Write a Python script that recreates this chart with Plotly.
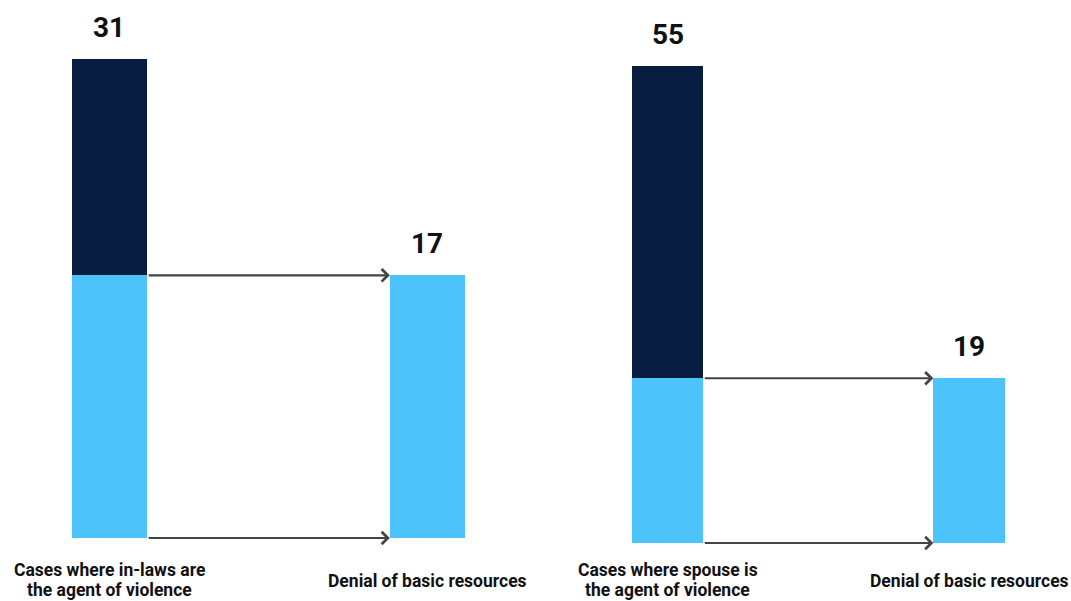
import plotly.graph_objects as go

# Panel data: total cases per agent of violence and the subset with denial of basic resources
left_categories = [["Cases where in-laws are", "the agent of violence"], ["Denial of basic resources"]]
left_total = 31
left_denial = 17

right_categories = [["Cases where spouse is", "the agent of violence"], ["Denial of basic resources"]]
right_total = 55
right_denial = 19

DARK = "#071D3F"
LIGHT = "#4CC3FA"
ARROW = "#444444"
BAR_W = 0.237

fig = go.Figure()

# Left panel (x, y)
fig.add_trace(go.Bar(x=[0, 1], y=[left_denial, left_denial], width=BAR_W,
                     marker=dict(color=LIGHT, line=dict(width=0)),
                     xaxis="x", yaxis="y", hoverinfo="skip"))
fig.add_trace(go.Bar(x=[0], y=[left_total - left_denial], width=BAR_W,
                     marker=dict(color=DARK, line=dict(width=0)),
                     xaxis="x", yaxis="y", hoverinfo="skip"))

# Right panel (x2, y2)
fig.add_trace(go.Bar(x=[0, 1], y=[right_denial, right_denial], width=BAR_W,
                     marker=dict(color=LIGHT, line=dict(width=0)),
                     xaxis="x2", yaxis="y2", hoverinfo="skip"))
fig.add_trace(go.Bar(x=[0], y=[right_total - right_denial], width=BAR_W,
                     marker=dict(color=DARK, line=dict(width=0)),
                     xaxis="x2", yaxis="y2", hoverinfo="skip"))

ax_common = dict(visible=False, showgrid=False, zeroline=False, fixedrange=True)

fig.update_layout(
    width=1071, height=601,
    margin=dict(l=0, r=0, t=0, b=0),
    paper_bgcolor="white", plot_bgcolor="rgba(0,0,0,0)",
    barmode="stack", showlegend=False,
    xaxis=dict(domain=[0, 1], range=[-0.3443, 3.0236], **ax_common),
    yaxis=dict(domain=[0, 1], range=[-4.078, 34.82], **ax_common),
    xaxis2=dict(domain=[0, 1], range=[-2.214, 1.338], anchor="y2", overlaying="x", **ax_common),
    yaxis2=dict(domain=[0, 1], range=[-6.69, 62.63], anchor="x2", overlaying="y", **ax_common),
)

num_font = dict(family="Roboto, Liberation Sans, sans-serif", size=28, color="#111111")
lab_font = dict(family="Roboto, Liberation Sans, sans-serif", size=17.5, color="#111111")


def paper_y(px):
    return (601 - px) / 601


annotations = []
panels = [
    ("x", "y", left_total, left_denial, left_categories),
    ("x2", "y2", right_total, right_denial, right_categories),
]
for xr, yr, total, denial, cats in panels:
    # value labels above the bars
    for xv, val in [(0, total), (1, denial)]:
        annotations.append(dict(x=xv, y=val, xref=xr, yref=yr, text=f"<b>{val}</b>",
                                showarrow=False, yanchor="bottom", yshift=13, font=num_font))
    # arrows connecting the denial slice to the second bar
    for yv in [denial, 0]:
        annotations.append(dict(x=1 - BAR_W / 2, y=yv, ax=BAR_W / 2, ay=yv,
                                xref=xr, yref=yr, axref=xr, ayref=yr, text="",
                                showarrow=True, arrowhead=4, arrowsize=1.1,
                                arrowwidth=2.2, arrowcolor=ARROW, standoff=0))
    # category labels under the bars, one annotation per line
    for line, cy in zip(cats[0], [570, 590]):
        annotations.append(dict(x=0, y=paper_y(cy), xref=xr, yref="paper",
                                text=f"<b>{line}</b>", showarrow=False, yanchor="middle",
                                borderpad=0, font=lab_font))
    for line, cy in zip(cats[1], [581]):
        annotations.append(dict(x=1, y=paper_y(cy), xref=xr, yref="paper",
                                text=f"<b>{line}</b>", showarrow=False, yanchor="middle",
                                borderpad=0, font=lab_font))

fig.update_layout(annotations=annotations)

fig.write_html("out.html")
